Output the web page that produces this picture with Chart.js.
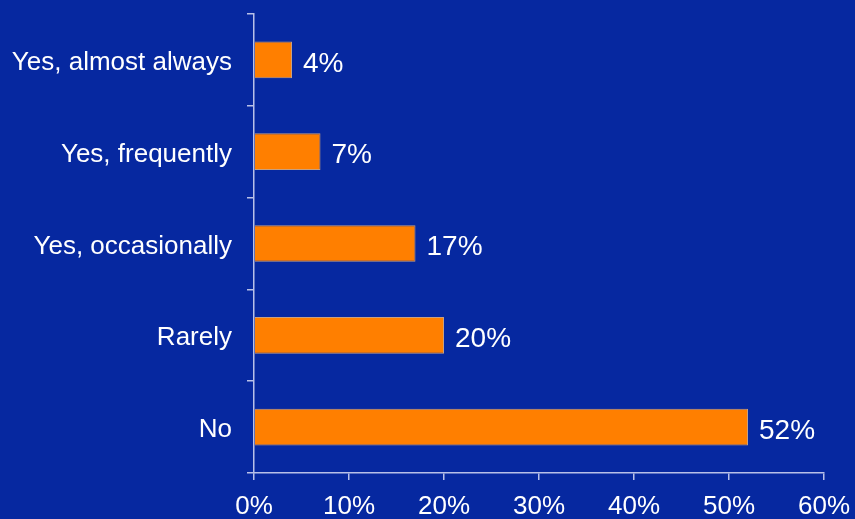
<!DOCTYPE html>
<html>
<head>
<meta charset="utf-8">
<script src="https://cdn.jsdelivr.net/npm/chart.js@4/dist/chart.umd.min.js"></script>
<style>
  html, body { margin: 0; padding: 0; background: #0628a0; }
  #wrap { width: 855px; height: 519px; }
</style>
</head>
<body>
<div id="wrap"><canvas id="c" width="855" height="519"></canvas></div>
<script>
// Survey answers and share of respondents (%)
const categories = ['Yes, almost always', 'Yes, frequently', 'Yes, occasionally', 'Rarely', 'No'];
const shares = [4, 7, 17, 20, 52];
const xTicks = [0, 10, 20, 30, 40, 50, 60];

const FONT = '"Liberation Sans", Arial, sans-serif';
const AXIS_COLOR = '#b8c0e8';

// Writes the percentage just past the end of each bar
const valueLabels = {
  id: 'valueLabels',
  afterDatasetsDraw(chart) {
    const ctx = chart.ctx;
    const meta = chart.getDatasetMeta(0);
    ctx.save();
    ctx.font = '28px ' + FONT;
    ctx.fillStyle = '#ffffff';
    ctx.textAlign = 'left';
    ctx.textBaseline = 'middle';
    meta.data.forEach((bar, i) => {
      ctx.fillText(shares[i] + '%', bar.x + 11, bar.y + 4);
    });
    ctx.restore();
  }
};

// Drop the extra room Chart.js reserves for overhanging end labels
function noEdgePadding(axis) {
  axis.paddingTop = 0;
  axis.paddingBottom = 0;
  axis.paddingLeft = 0;
  axis.paddingRight = 0;
}

new Chart(document.getElementById('c'), {
  type: 'bar',
  data: {
    labels: categories,
    datasets: [{
      data: shares,
      backgroundColor: '#ff7f00',
      borderColor: '#c8a080',
      borderWidth: 1,
      barPercentage: 0.8,
      categoryPercentage: 0.5
    }]
  },
  options: {
    indexAxis: 'y',
    responsive: false,
    animation: false,
    layout: { padding: { top: 14, right: 31, left: 0, bottom: 0 } },
    plugins: { legend: { display: false }, tooltip: { enabled: false } },
    scales: {
      x: {
        min: 0,
        max: 60,
        afterBuildTicks(axis) { axis.ticks = xTicks.map(v => ({ value: v })); },
        afterFit(axis) { axis.height = 46; noEdgePadding(axis); },
        border: { display: true, color: AXIS_COLOR, width: 1.5 },
        grid: { drawOnChartArea: false, drawTicks: true, tickLength: 7, color: AXIS_COLOR, lineWidth: 1.5 },
        ticks: {
          color: '#ffffff',
          font: { family: FONT, size: 26 },
          padding: 11,
          maxRotation: 0,
          callback: v => v + '%'
        }
      },
      y: {
        afterFit(axis) { axis.width = 254; noEdgePadding(axis); },
        border: { display: true, color: AXIS_COLOR, width: 1.5 },
        grid: { drawOnChartArea: false, drawTicks: true, tickLength: 7, color: AXIS_COLOR, lineWidth: 1.5, offset: true },
        ticks: {
          color: '#ffffff',
          font: { family: FONT, size: 26 },
          padding: 15,
          labelOffset: 3
        }
      }
    }
  },
  plugins: [valueLabels]
});
</script>
</body>
</html>
